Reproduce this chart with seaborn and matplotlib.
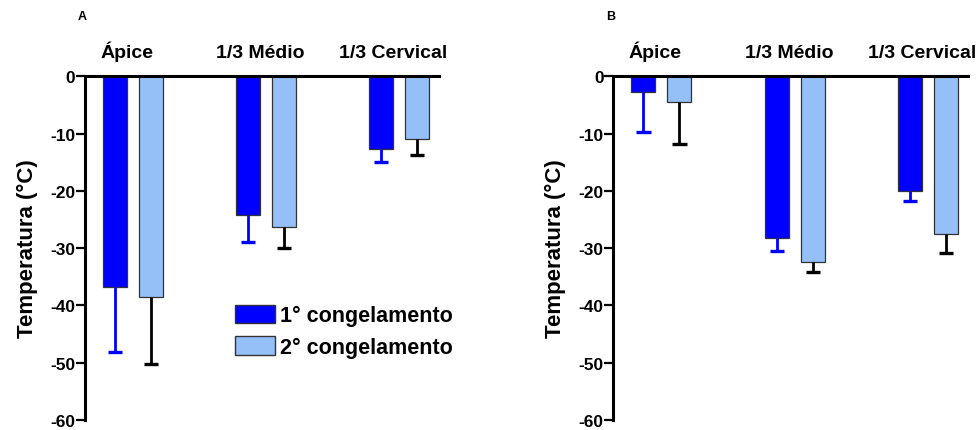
import pandas as pd
import seaborn as sns
import matplotlib.pyplot as plt
import matplotlib.transforms as transforms
from matplotlib.patches import Patch

# Data
Regioes = ['Ápice', '1/3 Médio', '1/3 Cervical']
Series = ['1° congelamento', '2° congelamento']
# Panel A
A_cong1 = [-36.8, -24.3, -12.7]
A_cong2 = [-38.5, -26.4, -11.0]
A_err1 = [11.4, 4.6, 2.3]
A_err2 = [11.8, 3.6, 2.8]
# Panel B
B_cong1 = [-2.7, -28.2, -20.1]
B_cong2 = [-4.5, -32.5, -27.5]
B_err1 = [7.0, 2.4, 1.6]
B_err2 = [7.4, 1.7, 3.3]
Yticks = [0, -10, -20, -30, -40, -50, -60]

Ylabel = 'Temperatura (°C)'
cor1 = '#0000FF'
cor2 = '#94BFF7'
cor_err = [cor1, 'black']
fontsz = 12.5
fontszcat = 14

sns.set_style("white")
plt.rcParams['font.family'] = ['Liberation Sans', 'DejaVu Sans']
plt.rcParams['font.weight'] = 'bold'
plt.rcParams['text.color'] = 'black'
plt.rcParams['xtick.color'] = 'black'
plt.rcParams['ytick.color'] = 'black'
plt.rcParams['axes.labelcolor'] = 'black'

fig = plt.figure(figsize=(9.78, 4.31), dpi=100)
axA = fig.add_axes([0.0869, 0.0237, 0.362, 0.7969])
axB = fig.add_axes([0.6271, 0.0237, 0.363, 0.7969])


def painel(ax, v1, v2, e1, e2):
    df = pd.DataFrame({'regiao': Regioes * 2,
                       'serie': [Series[0]] * 3 + [Series[1]] * 3,
                       'temp': v1 + v2})
    sns.barplot(data=df, x='regiao', y='temp', hue='serie', order=Regioes,
                hue_order=Series, palette=[cor1, cor2], saturation=1,
                width=0.54, gap=0.333, edgecolor='#333333', linewidth=0.9,
                errorbar=None, legend=False, ax=ax)

    # one-sided error bars (downward)
    bars = sorted(ax.patches, key=lambda p: p.get_x())
    erros = [e for par in zip(e1, e2) for e in par]
    for i, (p, e) in enumerate(zip(bars, erros)):
        xc = p.get_x() + p.get_width() / 2
        y = p.get_height()
        c = cor_err[i % 2]
        ax.vlines(xc, y, y - e, color=c, lw=2, zorder=3)
        ax.hlines(y - e, xc - 0.053, xc + 0.053, color=c, lw=2.4, zorder=3)

    ax.set_ylim(-60, 0)
    ax.set_xlim(-0.361, 2.301)
    ax.set_yticks(Yticks)
    ax.set_yticklabels([str(t) for t in Yticks])
    ax.xaxis.tick_top()
    ax.set_xlabel('')
    ax.set_ylabel(Ylabel, fontsize=16, fontweight='bold')
    ax.yaxis.set_label_coords(-0.132, 0.5)
    ax.tick_params(axis='x', length=0, pad=11, labelsize=fontszcat)
    ax.tick_params(axis='y', length=6.5, width=1.6, pad=0.5, labelsize=fontsz,
                   left=True)
    # category labels sit a little left of the group centres
    offset = transforms.ScaledTranslation(-0.06, 0, fig.dpi_scale_trans)
    for lbl in ax.get_xticklabels():
        lbl.set_transform(lbl.get_transform() + offset)
    for s in ['bottom', 'right']:
        ax.spines[s].set_visible(False)
    for s in ['top', 'left']:
        ax.spines[s].set_linewidth(2.2)
        ax.spines[s].set_color('black')


painel(axA, A_cong1, A_cong2, A_err1, A_err2)
painel(axB, B_cong1, B_cong2, B_err1, B_err2)

handles = [Patch(facecolor=cor1, edgecolor='#333333', lw=1),
           Patch(facecolor=cor2, edgecolor='#333333', lw=1)]
axA.legend(handles, Series, loc='upper left', bbox_to_anchor=(0.424, 0.335),
           frameon=False, fontsize=15.5, borderaxespad=0, borderpad=0,
           handlelength=1.85, handleheight=0.95, handletextpad=0.25,
           labelspacing=0.45)

fig.text(82 / 978, 1 - 17 / 431, 'A', fontsize=9, fontweight='bold',
         ha='center', va='center')
fig.text(611 / 978, 1 - 17 / 431, 'B', fontsize=9, fontweight='bold',
         ha='center', va='center')

fig.savefig('out.png', dpi=100)
